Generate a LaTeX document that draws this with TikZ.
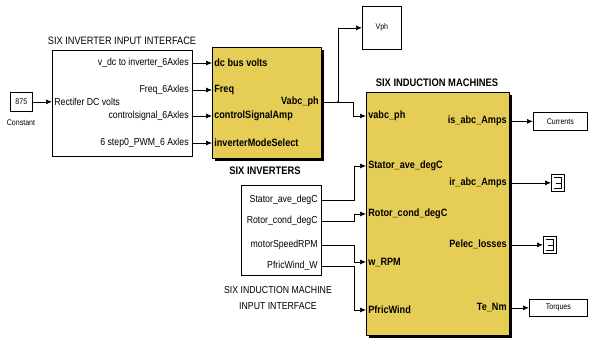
\documentclass[tikz,border=0pt]{standalone}
\usepackage{fontspec}
\setmainfont{Liberation Sans}[FakeStretch=0.86]
\usetikzlibrary{arrows.meta,shadows}

\definecolor{blockyellow}{RGB}{230,205,85}

\tikzset{
  blk/.style={draw=black, fill=white, inner sep=0pt, anchor=north west},
  sub/.style={blk, fill=blockyellow, drop shadow={shadow xshift=3pt, shadow yshift=-3pt, fill=black, opacity=1}},
  port/.style={inner sep=1pt, font=\fontsize{10.15}{11}\selectfont},
  bport/.style={inner sep=1pt, font=\bfseries\fontsize{10.6}{12}\selectfont},
  title/.style={inner sep=0pt, font=\fontsize{10.7}{12}\selectfont},
  btitle/.style={inner sep=0pt, font=\bfseries\fontsize{10.9}{12}\selectfont},
  tag/.style={font=\fontsize{8.2}{9}\selectfont},
  sink/.style={blk, minimum width=13pt, minimum height=17pt,
    path picture={
      \draw [line width=0.5pt] ([xshift=2.5pt,yshift=-3pt]path picture bounding box.north west)
        -| ([xshift=-3pt,yshift=3pt]path picture bounding box.south east)
        -- ([xshift=2.5pt,yshift=3pt]path picture bounding box.south west);
      \draw [line width=0.5pt] ([xshift=4.5pt]path picture bounding box.west) -- ([xshift=-3pt]path picture bounding box.east);
    }}
}

\begin{document}
\begin{tikzpicture}[x=1pt,y=-1pt,>={Latex[length=6pt,width=5pt]},line width=0.7pt]
        \useasboundingbox (0,0) rectangle (589,338);

        % source and input interface
        \node [blk, tag, minimum width=22pt, minimum height=19pt] at (10,92) (const) {875};
        \node [tag] at (21,123) (constlbl) {Constant};

        \node [blk, minimum width=140pt, minimum height=106pt] at (52,50) (ifc) {};
        \node [title] at (122,41) (ifctitle) {SIX INVERTER INPUT INTERFACE};
        \node [port, anchor=west] at (53,101.5) (rect) {Rectifer DC volts};
        \node [port, anchor=east] at (190,63) (vdc) {v\_dc to inverter\_6Axles};
        \node [port, anchor=east] at (190,90) (fq) {Freq\_6Axles};
        \node [port, anchor=east] at (190,116) (cs) {controlsignal\_6Axles};
        \node [port, anchor=east] at (190,143) (pwm) {6 step0\_PWM\_6 Axles};

        % inverters
        \node [sub, minimum width=109pt, minimum height=111pt] at (212,47) (inv) {};
        \node [btitle] at (265,171) (invtitle) {SIX INVERTERS};
        \node [bport, anchor=west] at (213,63) (dcbus) {dc bus volts};
        \node [bport, anchor=west] at (213,90) (freq) {Freq};
        \node [bport, anchor=west] at (213,116) (ctrl) {controlSignalAmp};
        \node [bport, anchor=west] at (213,143) (mode) {inverterModeSelect};
        \node [bport, anchor=east] at (320,102) (vabc) {Vabc\_ph};

        \node [blk, tag, minimum width=39pt, minimum height=43pt] at (362,6) (vph) {Vph};

        % machines
        \node [sub, minimum width=143pt, minimum height=243pt] at (366,92) (im) {};
        \node [btitle] at (437,83) (imtitle) {SIX INDUCTION MACHINES};
        \node [bport, anchor=west] at (367,116) (vabcin) {vabc\_ph};
        \node [bport, anchor=west] at (367,166) (statin) {Stator\_ave\_degC};
        \node [bport, anchor=west] at (367,214) (rotin) {Rotor\_cond\_degC};
        \node [bport, anchor=west] at (367,262) (wrpm) {w\_RPM};
        \node [bport, anchor=west] at (367,310) (pfin) {PfricWind};
        \node [bport, anchor=east] at (508,121) (isabc) {is\_abc\_Amps};
        \node [bport, anchor=east] at (508,183) (irabc) {ir\_abc\_Amps};
        \node [bport, anchor=east] at (508,244) (pel) {Pelec\_losses};
        \node [bport, anchor=east] at (508,307) (te) {Te\_Nm};

        \node [blk, tag, minimum width=54pt, minimum height=18pt] at (533,112) (cur) {Currents};
        \node [sink] at (551,174) (sc1) {};
        \node [sink] at (543,236) (sc2) {};
        \node [blk, tag, minimum width=58pt, minimum height=17pt] at (529,299) (torq) {Torques};

        % machine input interface
        \node [blk, minimum width=80pt, minimum height=90pt] at (241,185) (mif) {};
        \node [port, anchor=east] at (319,200) (stat) {Stator\_ave\_degC};
        \node [port, anchor=east] at (319,221) (rot) {Rotor\_cond\_degC};
        \node [port, anchor=east] at (319,245) (spd) {motorSpeedRPM};
        \node [port, anchor=east] at (319,266) (pfw) {PfricWind\_W};
        \node [port, align=center, font=\fontsize{10.15}{15.5}\selectfont] at (278,298) (miftitle) {SIX INDUCTION MACHINE\\INPUT INTERFACE};

        % signal lines
        \draw [->] (const.east) -- (ifc.west |- const.east);
        \draw [->] (ifc.east |- vdc) -- (inv.west |- dcbus);
        \draw [->] (ifc.east |- fq) -- (inv.west |- freq);
        \draw [->] (ifc.east |- cs) -- (inv.west |- ctrl);
        \draw [->] (ifc.east |- pwm) -- (inv.west |- mode);

        \coordinate (br) at (338,102);
        \coordinate (br2) at (353,102);
        \draw (inv.east |- vabc) -- (br2);
        \draw [->] (br) |- (vph.west);
        \draw [->] (br2) |- (im.west |- vabcin);
        \fill (br) circle (1.1pt);

        \coordinate (bus) at (354.5,0);
        \draw [->] (mif.east |- stat) -| (bus |- statin) -- (im.west |- statin);
        \draw [->] (mif.east |- rot) -| (bus |- rotin) -- (im.west |- rotin);
        \draw [->] (mif.east |- spd) -| (bus |- wrpm) -- (im.west |- wrpm);
        \draw [->] (mif.east |- pfw) -| (bus |- pfin) -- (im.west |- pfin);

        \draw [->] (im.east |- cur.west) -- (cur.west);
        \draw [->] (im.east |- sc1.west) -- (sc1.west);
        \draw [->] (im.east |- sc2.west) -- (sc2.west);
        \draw [->] (im.east |- torq.west) -- (torq.west);

\end{tikzpicture}
\end{document}
